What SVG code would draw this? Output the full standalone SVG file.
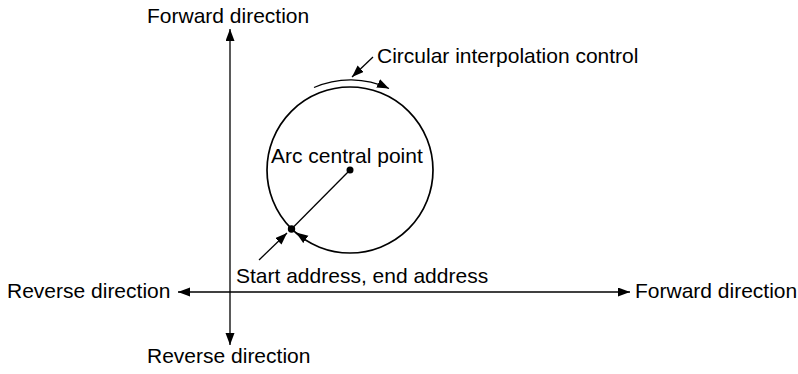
<svg xmlns="http://www.w3.org/2000/svg" width="798" height="374" viewBox="0 0 798 374">
<style>
.t{font-family:"Liberation Sans",Arial,sans-serif;font-size:21px;fill:#000}
.l{stroke:#000;stroke-width:1.3;fill:none}
.c{stroke:#000;stroke-width:1.7;fill:none}
</style>
<defs>
<marker id="ah" markerUnits="userSpaceOnUse" markerWidth="13" markerHeight="10" refX="12" refY="4.5" orient="auto-start-reverse">
<path d="M0,0 L12,4.5 L0,9 z" fill="#000"/>
</marker>
</defs>
<rect width="798" height="374" fill="#fff"/>
<g id="connectors">
<line class="l" x1="230" y1="29" x2="230" y2="345" marker-start="url(#ah)" marker-end="url(#ah)"/>
<line class="l" x1="178" y1="292" x2="630" y2="292" marker-start="url(#ah)" marker-end="url(#ah)"/>
<path class="l" d="M314,87.5 A90,90 0 0,1 389,88.5" marker-end="url(#ah)"/>
<line class="l" x1="373" y1="57" x2="352" y2="77" marker-end="url(#ah)"/>
<line class="l" x1="350" y1="170" x2="291.5" y2="229"/>
<line class="l" x1="259" y1="260" x2="287" y2="233" marker-end="url(#ah)"/>
<path class="l" d="M306,238.5 A83,83 0 0,1 296,232.5" marker-end="url(#ah)"/>
</g>
<g id="circle">
<circle class="c" cx="350" cy="170" r="83"/>
</g>
<g id="center-point">
<circle cx="350" cy="170" r="3.5" fill="#000"/>
<text class="t" x="271" y="163">Arc central point</text>
</g>
<g id="start-point">
<circle cx="291.5" cy="229" r="3.7" fill="#000"/>
<text class="t" x="236" y="283">Start address, end address</text>
</g>
<g id="circular-label">
<text class="t" x="377" y="63">Circular interpolation control</text>
</g>
<g id="axis-labels">
<text class="t" x="147" y="23">Forward direction</text>
<text class="t" x="147" y="363">Reverse direction</text>
<text class="t" x="7" y="298">Reverse direction</text>
<text class="t" x="635" y="298">Forward direction</text>
</g>
</svg>
